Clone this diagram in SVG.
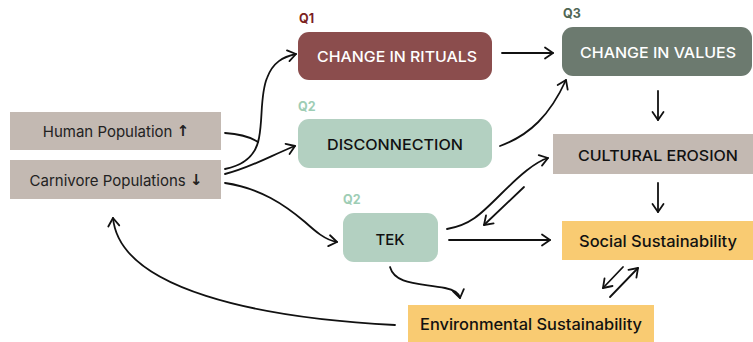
<svg xmlns="http://www.w3.org/2000/svg" width="753" height="342" viewBox="0 0 753 342">
<style>
.t{font-family:Inter,"Noto Sans","Liberation Sans",sans-serif;text-anchor:middle;dominant-baseline:central}
.cap{font-size:15px;font-weight:500}
.q{font-family:Inter,"Liberation Sans",sans-serif;font-size:12.5px;font-weight:700}
.ar{font-family:"DejaVu Sans",sans-serif;font-weight:700;font-size:15px}
.c{fill:none;stroke:#111;stroke-width:1.8;stroke-linecap:round}
</style>
<defs>
<marker id="a" markerUnits="userSpaceOnUse" markerWidth="14" markerHeight="14" refX="10" refY="6" orient="auto" viewBox="0 0 14 12">
<path d="M2,0.5 L10,6 L2,11.5" fill="none" stroke="#111" stroke-width="1.8" stroke-linecap="round" stroke-linejoin="round"/>
</marker>
</defs>
<rect width="753" height="342" fill="#fff"/>
<g id="human"><rect x="10" y="112" width="211" height="38" fill="#C3B9B2"/><text class="t" x="116" y="131" font-size="15" fill="#222">Human Population <tspan class="ar">↑</tspan></text></g>
<g id="carnivore"><rect x="10" y="160" width="211" height="39" fill="#C3B9B2"/><text class="t" x="116" y="180" font-size="15" fill="#222">Carnivore Populations <tspan class="ar">↓</tspan></text></g>
<g id="rituals"><text class="q" x="299" y="23" fill="#7B1F1F">Q1</text><rect x="298" y="32" width="194" height="48" rx="11" fill="#8B4D4D"/><text class="t cap" x="397" y="56" fill="#fff" textLength="160" lengthAdjust="spacingAndGlyphs">CHANGE IN RITUALS</text></g>
<g id="values"><text class="q" x="563" y="18" fill="#4F6655">Q3</text><rect x="562" y="27" width="190" height="49" rx="11" fill="#6C7A6F"/><text class="t cap" x="658" y="52" fill="#fff" textLength="156" lengthAdjust="spacingAndGlyphs">CHANGE IN VALUES</text></g>
<g id="disconnection"><text class="q" x="298" y="111" fill="#9ECDB5">Q2</text><rect x="298" y="119" width="194" height="49" rx="11" fill="#B3D0C1"/><text class="t cap" x="395" y="144" fill="#111" textLength="136" lengthAdjust="spacingAndGlyphs">DISCONNECTION</text></g>
<g id="erosion"><rect x="553" y="134" width="200" height="40" fill="#C3B9B2"/><text class="t cap" x="658" y="155" fill="#111" textLength="160" lengthAdjust="spacingAndGlyphs">CULTURAL EROSION</text></g>
<g id="tek"><text class="q" x="343" y="204" fill="#9ECDB5">Q2</text><rect x="343" y="213" width="95" height="49" rx="11" fill="#B3D0C1"/><text class="t cap" x="390" y="239" fill="#111">TEK</text></g>
<g id="social"><rect x="562" y="221" width="191" height="39" fill="#F9CB72"/><text class="t" x="658" y="241" font-size="15.5" font-weight="500" fill="#111" textLength="158" lengthAdjust="spacingAndGlyphs">Social Sustainability</text></g>
<g id="environmental"><rect x="408" y="305" width="246" height="40" fill="#F9CB72"/><text class="t" x="531" y="324" font-size="15.5" font-weight="500" fill="#111" textLength="222" lengthAdjust="spacingAndGlyphs">Environmental Sustainability</text></g>
<g id="connectors">
<path class="c" d="M225,169 C245,165 256,155 259,138 C263,118 260,95 267,78 C273,62 283,57 296,54" marker-end="url(#a)"/>
<path class="c" d="M225,133 C240,134 252,138 258,142"/>
<path class="c" d="M225,174 C250,168 272,155 295,146" marker-end="url(#a)"/>
<path class="c" d="M225,183 C260,188 285,205 305,222 C315,231 325,240 337,242" marker-end="url(#a)"/>
<path class="c" d="M502,53 L553,53" marker-end="url(#a)"/>
<path class="c" d="M500,146 C530,135 550,115 566,80" marker-end="url(#a)"/>
<path class="c" d="M658,91 L658,120" marker-end="url(#a)"/>
<path class="c" d="M658,183 L658,212" marker-end="url(#a)"/>
<path class="c" d="M447,229 C470,225 480,215 500,195 C520,175 535,162 548,158" marker-end="url(#a)"/>
<path class="c" d="M524,187 L484,225" marker-end="url(#a)"/>
<path class="c" d="M449,240 L550,240" marker-end="url(#a)"/>
<path class="c" d="M390,267 C395,285 420,283 445,288 C455,290 459,293 460,298" marker-end="url(#a)"/>
<path class="c" d="M610,297 L638,268" marker-end="url(#a)"/>
<path class="c" d="M623,267 L603,288" marker-end="url(#a)"/>
<path class="c" d="M395,325 C260,318 120,290 113,218" marker-end="url(#a)"/>
</g>
</svg>
